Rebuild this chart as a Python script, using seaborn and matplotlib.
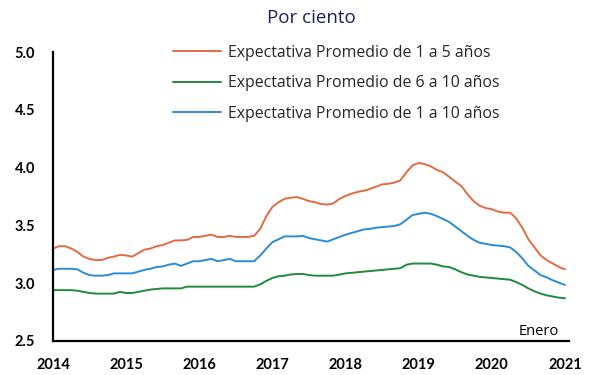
import numpy as np
import pandas as pd
import matplotlib
matplotlib.use("Agg")
import matplotlib.pyplot as plt
import seaborn as sns
from matplotlib.lines import Line2D

# Monthly average inflation expectations, January 2014 - January 2021 (per cent)
exp_1_5 = [
    3.30, 3.32, 3.32, 3.30, 3.27, 3.23, 3.21, 3.20, 3.20, 3.22, 3.23, 3.245,
    3.24, 3.23, 3.26, 3.29, 3.30, 3.32, 3.33, 3.35, 3.37, 3.37, 3.375, 3.40,
    3.40, 3.41, 3.42, 3.40, 3.40, 3.41, 3.40, 3.40, 3.40, 3.41, 3.47, 3.58,
    3.66, 3.70, 3.73, 3.74, 3.745, 3.73, 3.71, 3.70, 3.685, 3.68, 3.69, 3.73,
    3.755, 3.775, 3.79, 3.80, 3.815, 3.835, 3.855, 3.86, 3.87, 3.89, 3.96, 4.02,
    4.04, 4.03, 4.01, 3.98, 3.96, 3.92, 3.88, 3.84, 3.77, 3.71, 3.67, 3.65,
    3.64, 3.62, 3.61, 3.61, 3.56, 3.48, 3.38, 3.31, 3.24, 3.20, 3.17, 3.14,
    3.12,
]
exp_6_10 = [
    2.94, 2.94, 2.94, 2.94, 2.935, 2.925, 2.915, 2.91, 2.91, 2.91, 2.91, 2.925,
    2.915, 2.915, 2.925, 2.935, 2.945, 2.95, 2.955, 2.955, 2.955, 2.955, 2.97, 2.97,
    2.97, 2.97, 2.97, 2.97, 2.97, 2.97, 2.97, 2.97, 2.97, 2.97, 2.99, 3.02,
    3.045, 3.06, 3.065, 3.075, 3.08, 3.08, 3.07, 3.065, 3.065, 3.065, 3.065, 3.075,
    3.085, 3.09, 3.095, 3.10, 3.105, 3.11, 3.115, 3.12, 3.125, 3.13, 3.16, 3.17,
    3.17, 3.17, 3.17, 3.16, 3.145, 3.14, 3.12, 3.095, 3.075, 3.065, 3.055, 3.05,
    3.045, 3.04, 3.035, 3.03, 3.01, 2.985, 2.955, 2.93, 2.91, 2.895, 2.885, 2.875,
    2.87,
]
exp_1_10 = [
    3.115, 3.125, 3.125, 3.125, 3.12, 3.09, 3.07, 3.065, 3.065, 3.07, 3.085, 3.085,
    3.085, 3.085, 3.10, 3.115, 3.125, 3.14, 3.145, 3.16, 3.17, 3.15, 3.17, 3.19,
    3.19, 3.20, 3.21, 3.19, 3.20, 3.21, 3.19, 3.19, 3.19, 3.19, 3.24, 3.30,
    3.355, 3.38, 3.405, 3.405, 3.405, 3.41, 3.39, 3.38, 3.37, 3.36, 3.38, 3.40,
    3.42, 3.435, 3.45, 3.465, 3.47, 3.48, 3.485, 3.49, 3.495, 3.51, 3.55, 3.59,
    3.60, 3.61, 3.60, 3.58, 3.555, 3.53, 3.49, 3.45, 3.41, 3.375, 3.35, 3.34,
    3.33, 3.325, 3.32, 3.31, 3.27, 3.215, 3.15, 3.11, 3.07, 3.05, 3.025, 3.005,
    2.985,
]

series_names = [
    "Expectativa Promedio de 1 a 5 años",
    "Expectativa Promedio de 6 a 10 años",
    "Expectativa Promedio de 1 a 10 años",
]
series_colors = ["#E46A43", "#22893D", "#2B8BD6"]
year_ticks = [2014, 2015, 2016, 2017, 2018, 2019, 2020, 2021]
y_ticks = [2.5, 3.0, 3.5, 4.0, 4.5, 5.0]

# Fractional-year time axis for the monthly observations
n = len(exp_1_5)
t = 2014 + np.arange(n) / 12.0

df = pd.concat([
    pd.DataFrame({"fecha": t, "valor": vals, "serie": name})
    for name, vals in zip(series_names, [exp_1_5, exp_6_10, exp_1_10])
])

sns.set_style("white")
plt.rcParams["font.family"] = ["Lato", "DejaVu Sans"]

fig = plt.figure(figsize=(5.94, 3.75), dpi=100)
ax = fig.add_axes([53 / 594, 1 - 341 / 375, (569 - 53) / 594, (341 - 52) / 375])

sns.lineplot(data=df, x="fecha", y="valor", hue="serie", hue_order=series_names,
             palette=series_colors, linewidth=1.4, ax=ax, legend=False)

ax.set_xlim(2014, 2021.055)
ax.set_ylim(2.5, 5.0)
ax.set_xticks(year_ticks)
ax.set_xticklabels([str(y) for y in year_ticks])
ax.set_yticks(y_ticks)
ax.set_yticklabels([f"{v:.1f}" for v in y_ticks])
ax.set_xlabel("")
ax.set_ylabel("")

for side in ("top", "right"):
    ax.spines[side].set_visible(False)
for side in ("left", "bottom"):
    ax.spines[side].set_color("black")
    ax.spines[side].set_linewidth(1.6)

ax.tick_params(axis="y", direction="out", length=5, width=1.2, colors="black",
               labelsize=10.5, pad=8)
ax.tick_params(axis="x", direction="out", length=3, width=1.2, colors="black",
               labelsize=10.5, pad=9)
for lab in ax.get_xticklabels() + ax.get_yticklabels():
    lab.set_fontweight("bold")

# Legend at the top, without frame
handles = [Line2D([], [], color=c, linewidth=1.4) for c in series_colors]
fig.legend(handles, series_names, loc="upper left",
           bbox_to_anchor=(173 / 594, 1 - 45 / 375), frameon=False,
           prop={"family": ["Open Sans", "DejaVu Sans"], "size": 11.4},
           handlelength=3.0, handletextpad=0.45,
           labelspacing=0.9, borderaxespad=0, borderpad=0)

fig.text(311 / 594, 1 - 18 / 375, "Por ciento", ha="center", va="center",
         fontsize=13.5, color="#1E1E5A", family=["Open Sans", "DejaVu Sans"])
ax.text(2020.92, 2.515, "Enero", ha="right", va="bottom", fontsize=10.5,
        color="black", family=["Open Sans", "DejaVu Sans"])

fig.savefig("out.png", dpi=100)
